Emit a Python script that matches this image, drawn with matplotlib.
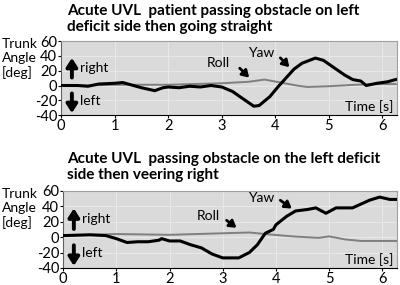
import matplotlib.pyplot as plt

plt.rcParams['font.family'] = ['Lato', 'DejaVu Sans']
plt.rcParams['axes.unicode_minus'] = False

# top panel: going straight
t1_yaw = [0, 0.3, 0.5, 0.7, 1.0, 1.15, 1.3, 1.5, 1.75, 1.9, 2.0, 2.2, 2.4, 2.6, 2.8, 3.0,
          3.2, 3.4, 3.6, 3.7, 3.9, 4.05, 4.2, 4.35, 4.5, 4.75, 4.9, 5.1, 5.3, 5.45, 5.6,
          5.7, 5.9, 6.1, 6.25]
yaw1 = [0, 0, -1, 2, 3, 4, 1, -3, -7, -3, -2, -3, -1, -2, 0, -2,
        -8, -18, -28, -27, -15, -2, 10, 22, 30, 37, 34, 24, 14, 8, 6,
        0, 3, 5, 8]
t1_roll = [0, 0.5, 1.0, 1.5, 2.0, 2.5, 3.0, 3.5, 3.8, 4.1, 4.4, 4.6, 5.0, 5.5, 6.0, 6.25]
roll1 = [0, 0, 1, 1, 1, 2, 3, 5, 8, 4, 0, -2, -1, 1, 2, 2]

# bottom panel: veering right
t2_yaw = [0, 0.5, 0.8, 1.0, 1.2, 1.4, 1.6, 1.8, 1.85, 2.0, 2.2, 2.4, 2.6, 2.8, 3.0, 3.3,
          3.5, 3.65, 3.8, 3.95, 4.0, 4.2, 4.37, 4.6, 4.75, 4.94, 5.13, 5.44, 5.76, 5.95,
          6.14, 6.3]
yaw2 = [2, 3, 2, -2, -7, -6, -6, -4, -2, -5, -5, -10, -14, -22, -27, -27,
        -20, -10, 5, 10, 16, 27, 34, 36, 38, 31, 38, 38, 48, 52,
        49, 49]
t2_roll = [0, 1.0, 2.0, 3.0, 3.5, 3.8, 4.3, 4.8, 5.0, 5.3, 5.6, 6.3]
roll2 = [2, 4, 3, 5, 6, 4, 1, -1, 1, -3, -5, -5]

x_ticks = [0, 1, 2, 3, 4, 5, 6]
y_ticks = [-40, -20, 0, 20, 40, 60]

panels = [
    ("Acute UVL  patient passing obstacle on left\ndeficit side then going straight",
     t1_yaw, yaw1, t1_roll, roll1,
     (2.94, 30), (3.3, 26), (3.55, 8), (3.74, 44), (4.06, 40), (4.3, 22)),
    ("Acute UVL  passing obstacle on the left deficit\nside then veering right",
     t2_yaw, yaw2, t2_roll, roll2,
     (2.73, 27), (3.03, 24), (3.3, 10), (3.73, 51), (4.04, 50), (4.34, 35)),
]

fig = plt.figure(figsize=(4, 2.85), dpi=100)
axes_pos = [[0.153, 0.596, 0.84, 0.26], [0.158, 0.06, 0.835, 0.27]]
title_y = [0.985, 0.465]

big_arrow = dict(arrowstyle='-|>,head_width=0.32,head_length=0.5', color='black', lw=2.8)
small_arrow = dict(arrowstyle='-|>,head_width=0.25,head_length=0.4', color='black', lw=2.0)

for i, (title, ty, yaw, tr, roll, roll_txt, roll_a, roll_b, yaw_txt, yaw_a, yaw_b) in enumerate(panels):
    ax = fig.add_axes(axes_pos[i])
    ax.set_facecolor('#dadada')
    ax.plot(tr, roll, color='#7f7f7f', lw=1.4, zorder=3)
    ax.plot(ty, yaw, color='black', lw=2.2, zorder=4)
    ax.set_xlim(0, 6.28)
    ax.set_ylim(-40, 60)
    ax.set_xticks(x_ticks)
    ax.set_yticks(y_ticks)
    ax.tick_params(labelsize=10.5, length=2, pad=1, colors='black')
    ax.grid(color='#e8e8e8', lw=0.8)
    ax.set_axisbelow(True)
    for s in ['top', 'right']:
        ax.spines[s].set_color('#a0a0a0')
    ax.spines['left'].set_color('#606060')
    ax.spines['bottom'].set_color('black')

    ax.annotate('', xy=(0.2, 41), xytext=(0.2, 7), arrowprops=big_arrow,
                annotation_clip=False)
    ax.annotate('', xy=(0.2, -41), xytext=(0.2, -7), arrowprops=big_arrow,
                annotation_clip=False)
    ax.text(0.36, 24, 'right', fontsize=10, va='center')
    ax.text(0.36, -21, 'left', fontsize=10, va='center')
    ax.text(6.2, -29, 'Time [s]', fontsize=10, ha='right', va='center')

    ax.text(*roll_txt, 'Roll', fontsize=10, ha='center', va='center')
    ax.annotate('', xy=roll_b, xytext=roll_a, arrowprops=small_arrow)
    ax.text(*yaw_txt, 'Yaw', fontsize=10, ha='center', va='center')
    ax.annotate('', xy=yaw_b, xytext=yaw_a, arrowprops=small_arrow)

    fig.text(0.167, title_y[i], title, fontsize=11, fontweight='bold', va='top',
             linespacing=1.15)
    top = axes_pos[i][1] + axes_pos[i][3]
    fig.text(0.005, top + 0.01, 'Trunk\nAngle\n[deg]', fontsize=10, va='top', linespacing=1.2)

fig.savefig('out.png', dpi=100)
